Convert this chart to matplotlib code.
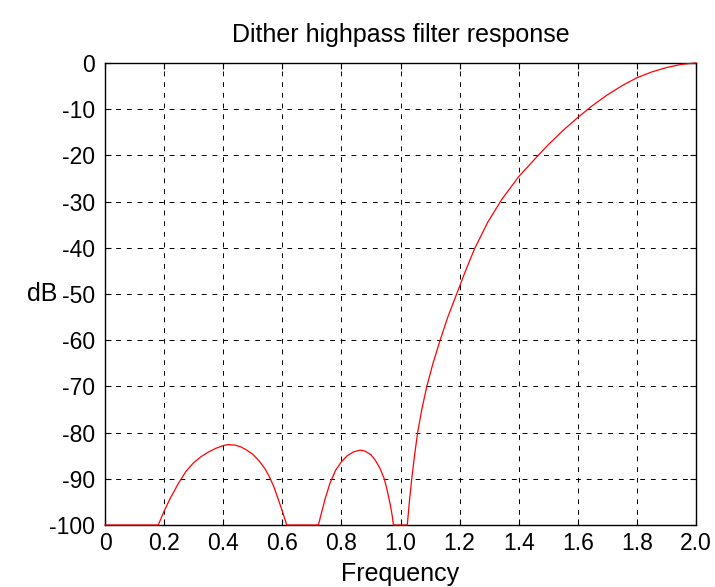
import matplotlib
matplotlib.use("Agg")
import matplotlib.pyplot as plt

# punkty (częstotliwość, dB)
czestotliwosc = [0.0, 0.18, 0.19, 0.20, 0.22, 0.25, 0.275, 0.30, 0.325, 0.35, 0.375, 0.40, 0.417,
                 0.44, 0.46, 0.48, 0.50, 0.52, 0.54, 0.555, 0.57, 0.585, 0.60, 0.615,
                 0.722, 0.73, 0.745, 0.761, 0.78, 0.80, 0.82, 0.84, 0.863, 0.88, 0.90, 0.915,
                 0.931, 0.945, 0.955, 0.965, 0.972, 0.976,
                 1.023, 1.03, 1.038, 1.048, 1.058, 1.072, 1.089, 1.11, 1.134, 1.16, 1.19,
                 1.22, 1.25, 1.295, 1.342, 1.40, 1.466, 1.50, 1.55, 1.60, 1.65, 1.70,
                 1.75, 1.80, 1.85, 1.90, 1.95, 2.0]
odpowiedz_db = [-100, -100, -98.5, -97.0, -94.3, -90.8, -88.3, -86.5, -85.2, -84.2, -83.4, -82.8, -82.6,
                -82.7, -83.1, -83.8, -84.7, -86.0, -87.7, -89.4, -91.5, -94.2, -97.0, -100,
                -100, -98.0, -94.3, -91.0, -88.2, -86.3, -85.0, -84.2, -83.8, -84.0, -84.8, -86.0,
                -87.8, -90.0, -92.5, -95.5, -98.0, -100,
                -100, -95.0, -90.0, -84.7, -80.0, -75.0, -70.0, -65.0, -60.0, -55.0, -50.0,
                -45.0, -40.3, -34.5, -29.6, -24.6, -20.0, -17.7, -14.6, -11.8, -9.2, -6.9,
                -4.9, -3.2, -1.95, -1.0, -0.3, 0.0]

x_ticks = [0, 0.2, 0.4, 0.6, 0.8, 1.0, 1.2, 1.4, 1.6, 1.8, 2.0]
x_etykiety = ["0", "0.2", "0.4", "0.6", "0.8", "1.0", "1.2", "1.4", "1.6", "1.8", "2.0"]
y_ticks = [0, -10, -20, -30, -40, -50, -60, -70, -80, -90, -100]
y_etykiety = ["0", "-10", "-20", "-30", "-40", "-50", "-60", "-70", "-80", "-90", "-100"]

plt.rcParams['font.family'] = ['Liberation Sans', 'DejaVu Sans']

fig = plt.figure(figsize=(7.15, 5.87), dpi=100)
ax = fig.add_axes([0.1469, 0.1056, 0.8265, 0.7871])

ax.plot(czestotliwosc, odpowiedz_db, color='red', linewidth=0.9, clip_on=False, zorder=5)

ax.set_xlim(0, 2.0)
ax.set_ylim(-100, 0)
ax.set_xticks(x_ticks)
ax.set_xticklabels(x_etykiety)
ax.set_yticks(y_ticks)
ax.set_yticklabels(y_etykiety)

ax.grid(True, color='black', linestyle=(0, (5, 6)), linewidth=0.7)
ax.tick_params(direction='in', top=True, right=True, length=4, width=0.8,
               labelsize=16.5, pad=5)
ax.tick_params(axis='y', pad=7)
for s in ax.spines.values():
    s.set_linewidth(1.0)

ax.set_title("Dither highpass filter response", fontsize=18, pad=15)
ax.set_xlabel("Frequency", fontsize=18, labelpad=5)
ax.set_ylabel("dB", fontsize=18, rotation=0, va='center', ha='center')
ax.yaxis.set_label_coords(-0.107, 0.5)

fig.savefig("out.png", dpi=100)
